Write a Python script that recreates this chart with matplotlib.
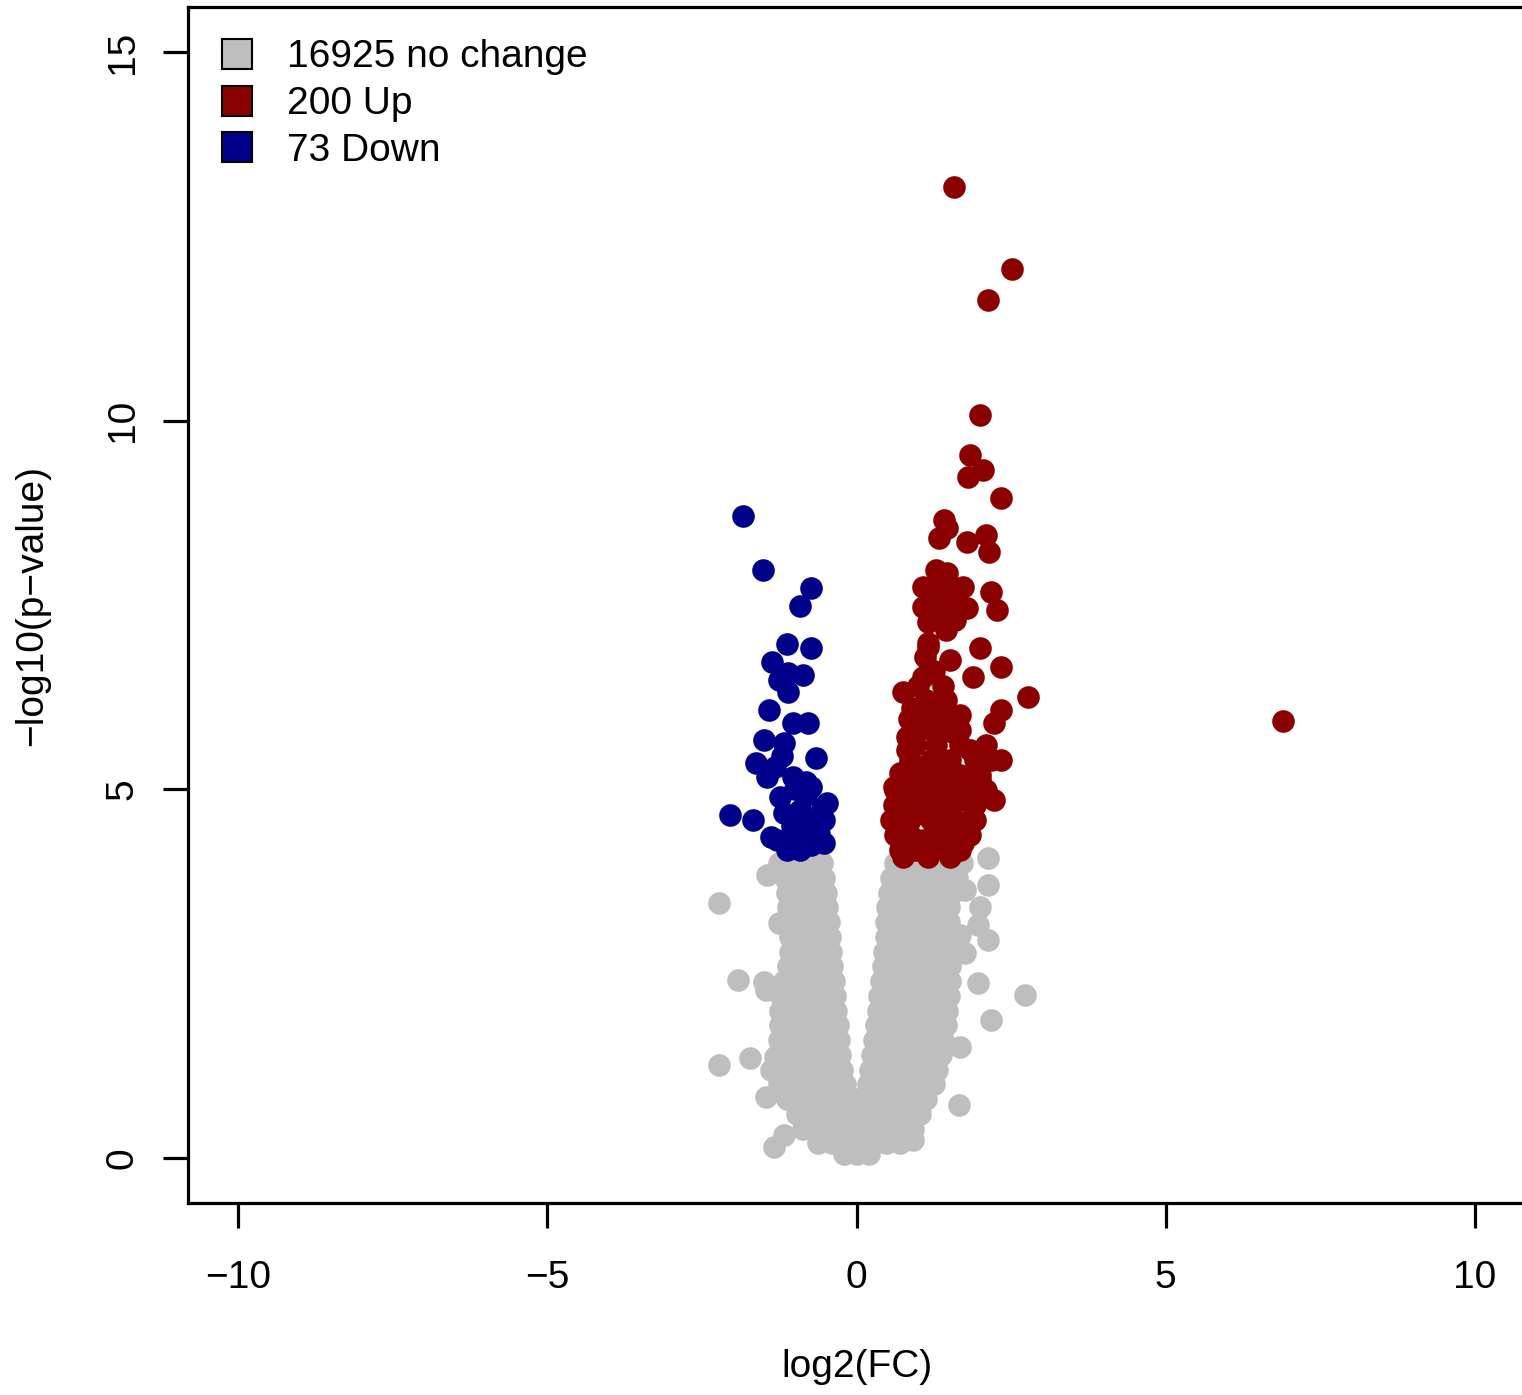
import numpy as np
import matplotlib
matplotlib.use("Agg")
from matplotlib import pyplot as plt
from matplotlib.lines import Line2D

plt.rcParams['font.family'] = ['Liberation Sans', 'DejaVu Sans']
plt.rcParams['axes.unicode_minus'] = True

GREY = "#BEBEBE"
UP_RED = "#8B0000"
DOWN_BLUE = "#00008B"

N_NOCHANGE = 16925
N_UP = 200
N_DOWN = 73

# no-change genes, read off row by row: -log10(p) and the log2FC values in that row
nochange_rows_y = [4.0, 3.8, 3.6, 3.4, 3.2, 3.0, 2.8, 2.6, 2.4, 2.2, 2.0, 1.8,
                   1.6, 1.4, 1.2, 1.0, 0.8, 0.6, 0.4, 0.2, 0.05]
nochange_rows_x = [
    [-1.26, -1.06, -0.86, -0.68, -0.55, 0.62, 0.84, 1.06, 1.28, 1.50, 1.70],
    [-1.15, -0.95, -0.75, -0.52, 0.55, 0.76, 0.97, 1.18, 1.40, 1.62],
    [-1.12, -0.92, -0.72, -0.49, 0.52, 0.73, 0.94, 1.14, 1.34, 1.55],
    [-1.10, -0.90, -0.70, -0.47, 0.50, 0.71, 0.92, 1.12, 1.32, 1.50],
    [-1.08, -0.88, -0.68, -0.45, 0.48, 0.70, 0.90, 1.10, 1.30, 1.49],
    [-1.08, -0.88, -0.66, -0.43, 0.47, 0.68, 0.88, 1.08, 1.28, 1.49],
    [-1.07, -0.86, -0.64, -0.41, 0.45, 0.66, 0.88, 1.10, 1.32, 1.52],
    [-1.10, -0.88, -0.64, -0.39, 0.43, 0.65, 0.87, 1.09, 1.31, 1.52],
    [-1.18, -0.96, -0.74, -0.55, -0.37, 0.40, 0.62, 0.84, 1.06, 1.28, 1.52],
    [-1.22, -1.00, -0.78, -0.56, -0.35, 0.37, 0.60, 0.82, 1.04, 1.27, 1.50],
    [-1.24, -1.02, -0.80, -0.56, -0.33, 0.34, 0.57, 0.80, 1.02, 1.24, 1.46],
    [-1.24, -1.02, -0.78, -0.54, -0.30, 0.31, 0.54, 0.77, 1.00, 1.22, 1.44],
    [-1.25, -1.02, -0.78, -0.52, -0.28, 0.28, 0.50, 0.73, 0.96, 1.18, 1.40],
    [-1.28, -1.04, -0.78, -0.52, -0.26, 0.25, 0.48, 0.70, 0.92, 1.14, 1.36],
    [-1.30, -1.06, -0.80, -0.52, -0.23, 0.22, 0.45, 0.67, 0.88, 1.10, 1.30],
    [-1.25, -1.00, -0.76, -0.50, -0.19, 0.19, 0.42, 0.64, 0.86, 1.06, 1.25],
    [-1.12, -0.90, -0.68, -0.46, -0.23, 0.0, 0.23, 0.46, 0.69, 0.92, 1.13],
    [-0.97, -0.75, -0.53, -0.31, -0.10, 0.12, 0.34, 0.56, 0.78, 1.02],
    [-0.86, -0.64, -0.42, -0.20, 0.02, 0.24, 0.46, 0.68, 0.92],
    [-0.62, -0.40, -0.18, 0.04, 0.26, 0.48, 0.70],
    [-0.20, 0.0, 0.20],
]
# scattered no-change genes outside the main cloud
nochange_out_x = [-2.23, -1.91, -1.50, -1.47, -1.73, -2.23, -1.47, -1.44, -1.26,
                  -1.31, -1.39, -1.34, -1.18, 1.65, 1.68, 2.17, 2.73, 1.96, 2.13,
                  1.97, 2.00, 2.12, 2.13, 1.76, 1.68, 1.76, 0.91]
nochange_out_y = [3.46, 2.41, 2.39, 2.28, 1.36, 1.26, 0.83, 3.84, 3.19,
                  1.37, 1.19, 0.15, 0.31, 0.72, 1.51, 1.87, 2.21, 2.37, 2.96,
                  3.16, 3.40, 3.70, 4.07, 2.78, 3.02, 3.63, 0.24]

up_x = [1.57, 2.51, 2.13, 2.00, 1.84, 2.04, 1.81, 2.33, 1.41, 1.47, 1.33, 1.79,
        2.09, 2.15, 1.28, 1.47, 1.08, 1.73, 2.17, 1.07, 1.31, 1.57, 1.79, 2.28,
        1.15, 1.44, 1.16, 2.00, 1.52, 2.33, 1.08, 0.76, 1.89, 2.78, 2.33, 2.22,
        1.15, 1.57, 1.03, 1.57, 0.82, 1.84, 2.33, 0.82, 0.71, 0.60, 1.08, 1.57,
        2.00, 2.22, 0.92, 1.31, 1.73, 0.66, 1.03, 1.47, 1.84, 0.71, 1.08, 1.47,
        1.73, 0.76, 1.15, 1.52, 6.90, 1.16, 1.28, 1.52, 1.36, 1.60,
        0.71, 0.95, 1.20, 1.44, 1.68, 0.63, 0.87, 1.28, 1.60, 1.84,
        0.55, 0.87, 1.20, 1.60, 1.92, 0.60, 0.87, 1.20, 1.52, 1.92,
        0.63, 0.95, 1.20, 1.52, 1.84, 2.09, 0.79, 1.03, 1.36, 1.68, 2.00,
        0.87, 1.20, 1.52, 1.92, 2.17, 0.95, 1.28, 1.68, 2.09,
        0.95, 1.28, 1.68, 1.03, 1.36, 1.68, 1.12, 1.44,
        0.90, 1.00, 1.25, 0.85, 1.40, 1.10]
up_y = [13.17, 12.06, 11.64, 10.08, 9.53, 9.33, 9.24, 8.95, 8.65, 8.54, 8.41, 8.35,
        8.45, 8.22, 7.98, 7.93, 7.74, 7.74, 7.68, 7.47, 7.53, 7.54, 7.46, 7.43,
        7.27, 7.16, 6.98, 6.92, 6.75, 6.66, 6.52, 6.32, 6.52, 6.25, 6.08, 5.90,
        6.08, 5.98, 5.80, 5.76, 5.71, 5.53, 5.40, 5.53, 5.22, 5.03, 5.30, 5.22,
        5.13, 4.86, 4.90, 4.90, 4.86, 4.54, 4.68, 4.58, 4.58, 4.31, 4.31, 4.35,
        4.27, 4.08, 4.08, 4.08, 5.93, 6.93, 7.70, 7.70, 7.30, 7.30,
        4.18, 4.18, 4.18, 4.18, 4.18, 4.38, 4.38, 4.38, 4.38, 4.38,
        4.58, 4.58, 4.58, 4.58, 4.58, 4.79, 4.79, 4.79, 4.79, 4.79,
        4.99, 4.99, 4.99, 4.99, 4.99, 4.99, 5.19, 5.19, 5.19, 5.19, 5.19,
        5.40, 5.40, 5.40, 5.40, 5.40, 5.60, 5.60, 5.60, 5.60,
        5.80, 5.80, 5.80, 6.01, 6.01, 6.01, 6.21, 6.21,
        6.10, 6.40, 6.60, 5.95, 6.40, 6.80]

down_x = [-1.83, -1.52, -0.74, -0.92, -1.12, -0.74, -1.36, -1.10, -0.86, -1.26,
          -1.10, -1.42, -0.78, -1.02, -1.50, -1.18, -0.66, -1.63, -1.31, -1.44,
          -1.02, -0.74, -1.23, -0.47, -2.04, -1.67, -1.18, -0.91, -0.53, -1.39,
          -1.07, -0.70, -0.53, -1.12, -0.91, -1.28, -0.82, -0.66, -0.91, -0.74,
          -1.00, -0.82, -0.95, -0.60, -0.55, -1.05, -1.20]
down_y = [8.71, 7.97, 7.73, 7.49, 6.97, 6.92, 6.73, 6.58, 6.55, 6.48,
          6.32, 6.08, 5.90, 5.90, 5.67, 5.63, 5.43, 5.36, 5.30, 5.17,
          5.17, 5.03, 4.90, 4.81, 4.65, 4.58, 4.68, 4.72, 4.58, 4.35,
          4.35, 4.41, 4.27, 4.18, 4.18, 4.31, 4.92, 4.58, 4.52, 4.25,
          5.00, 5.10, 4.45, 4.40, 4.75, 4.50, 5.45]


def main():
    grey_x = np.concatenate([np.concatenate(nochange_rows_x), nochange_out_x])
    grey_y = np.concatenate([
        np.repeat(nochange_rows_y, [len(r) for r in nochange_rows_x]), nochange_out_y])

    fig = plt.figure(figsize=(15.22, 13.95), dpi=100)
    ax = fig.add_axes([188 / 1522, 192 / 1395, 1337 / 1522, 1196 / 1395])

    ax.scatter(grey_x, grey_y, s=265, c=GREY, linewidths=0)
    ax.scatter(up_x, up_y, s=265, c=UP_RED, linewidths=0)
    ax.scatter(down_x, down_y, s=265, c=DOWN_BLUE, linewidths=0)

    ax.set_xlim(-10.81, 10.81)
    ax.set_ylim(-0.61, 15.61)
    ax.set_xticks([-10, -5, 0, 5, 10])
    ax.set_yticks([0, 5, 10, 15])

    for side in ax.spines:
        ax.spines[side].set_linewidth(2.3)
    ax.tick_params(length=18, width=2.3, labelsize=28)
    ax.tick_params(axis="x", pad=23)
    ax.tick_params(axis="y", pad=16)
    plt.setp(ax.get_yticklabels(), rotation=90, va="center")

    ax.set_xlabel("log2(FC)", fontsize=28)
    ax.set_ylabel("\u2212log10(p\u2212value)", fontsize=28)
    ax.xaxis.set_label_coords(0.5, -0.122)
    ax.yaxis.set_label_coords(-0.103, 0.5)

    handles = [
        Line2D([], [], ls="none", marker="s", ms=21, mfc=GREY, mec="black", mew=1.5),
        Line2D([], [], ls="none", marker="s", ms=21, mfc=UP_RED, mec="black", mew=1.5),
        Line2D([], [], ls="none", marker="s", ms=21, mfc=DOWN_BLUE, mec="black", mew=1.5),
    ]
    labels = [f"{N_NOCHANGE} no change", f"{N_UP} Up", f"{N_DOWN} Down"]
    ax.legend(handles, labels, loc="upper left", bbox_to_anchor=(0.0224, 0.973),
              frameon=False, fontsize=28, borderpad=0, borderaxespad=0,
              handlelength=1.0, handletextpad=0.78, labelspacing=0.28)

    fig.savefig("out.png", dpi=100)


if __name__ == "__main__":
    main()
